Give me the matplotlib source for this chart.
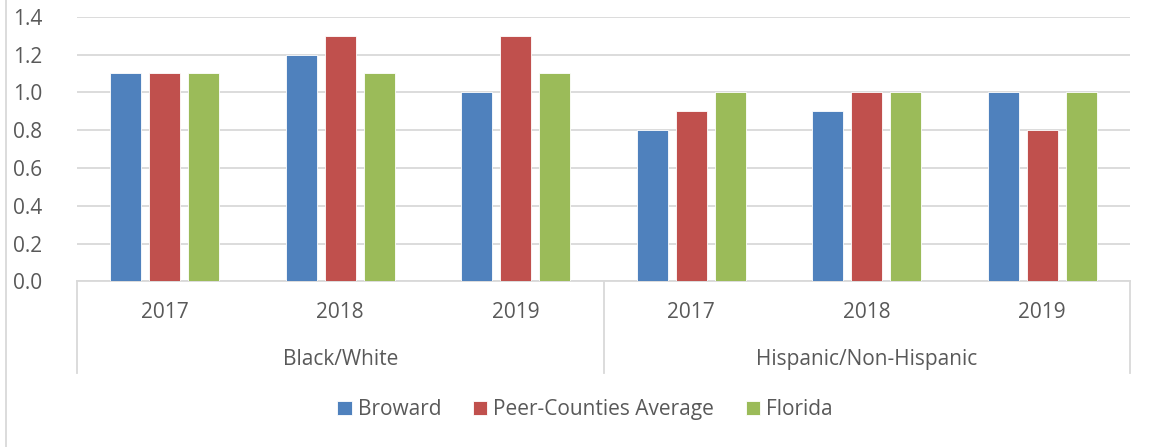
import matplotlib
matplotlib.use("Agg")
import matplotlib.pyplot as plt
from matplotlib.lines import Line2D
import numpy as np

# --- data ---
years = ["2017", "2018", "2019", "2017", "2018", "2019"]
groups = ["Black/White", "Hispanic/Non-Hispanic"]
broward = [1.1, 1.2, 1.0, 0.8, 0.9, 1.0]
peer_avg = [1.1, 1.3, 1.3, 0.9, 1.0, 0.8]
florida = [1.1, 1.1, 1.1, 1.0, 1.0, 1.0]

series = [("Broward", broward, "#4F81BD"),
          ("Peer-Counties Average", peer_avg, "#C0504D"),
          ("Florida", florida, "#9BBB59")]

txt = "#595959"
grid_c = "#D9D9D9"
plt.rcParams['font.family'] = ['Open Sans', 'DejaVu Sans']

fig = plt.figure(figsize=(11.5, 4.47), dpi=100)
ax = fig.add_axes([0.06696, 0.3707, 0.91565, 0.5919])

x = np.arange(len(years))
off = 0.222
w = 0.177
for i, (name, vals, col) in enumerate(series):
    ax.bar(x + (i - 1) * off, vals, width=w, color=col, label=name,
           edgecolor="white", linewidth=0.6, zorder=3)

ax.set_xlim(-0.5, 5.5)
ax.set_ylim(0, 1.4)
ax.set_yticks(np.arange(0, 1.41, 0.2))
ax.set_yticklabels([f"{v:.1f}" for v in np.arange(0, 1.41, 0.2)])
ax.yaxis.grid(True, color=grid_c, linewidth=1.3, zorder=0)
ax.tick_params(axis="y", length=0, pad=25, labelsize=15, labelcolor=txt)
ax.tick_params(axis="x", length=0, labelbottom=False)

for s in ["top", "right", "left"]:
    ax.spines[s].set_visible(False)
ax.spines["bottom"].set_color(grid_c)
ax.spines["bottom"].set_linewidth(1.3)

# multi-level category axis
trans = ax.get_xaxis_transform()
for xi, lab in zip(x, years):
    ax.text(xi, -0.117, lab, transform=trans, ha="center", va="center",
            fontsize=15, color=txt)
for gi, g in enumerate(groups):
    ax.text(gi * 3 + 1, -0.295, g, transform=trans, ha="center", va="center",
            fontsize=15, color=txt)
for xv in [-0.5, 2.5, 5.5]:
    ax.add_line(Line2D([xv, xv], [0, -0.348], transform=trans, color=grid_c,
                       linewidth=1.3, clip_on=False))

# chart border on the left
fig.add_artist(Line2D([6 / 1150, 6 / 1150], [0, 1], transform=fig.transFigure,
                      color=grid_c, linewidth=1.3))

fig.legend(loc="center", bbox_to_anchor=(0.5087, 0.0828), ncol=3, frameon=False,
           fontsize=15, labelcolor=txt, handlelength=0.7, handleheight=0.7,
           handletextpad=0.3, columnspacing=1.5)

fig.savefig("out.png", dpi=100)
